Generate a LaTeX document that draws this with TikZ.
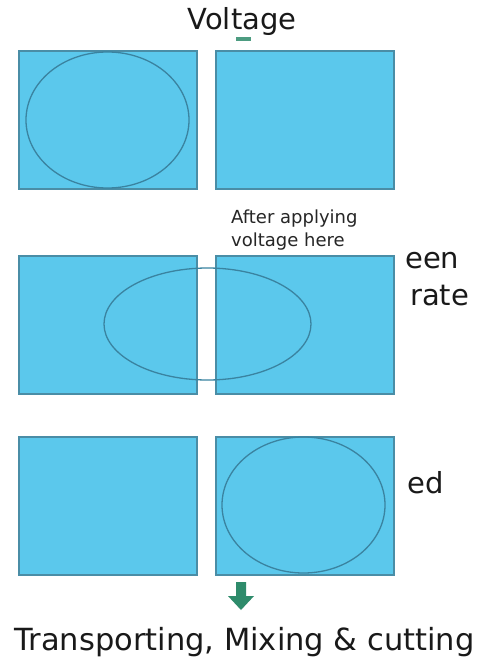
\documentclass[tikz,border=0pt]{standalone}
\usepackage{fontspec}
\setmainfont{DejaVu Sans}
\usetikzlibrary{shapes.geometric}
\definecolor{boxfill}{HTML}{5BC8EC}
\definecolor{boxline}{HTML}{4A8DA6}
\definecolor{ellline}{HTML}{3A83A0}
\definecolor{arrgreen}{HTML}{2E8B6B}
\begin{document}
\begin{tikzpicture}[x=1pt,y=-1pt,
  cell/.style={draw=boxline, fill=boxfill, line width=1.3pt, minimum width=178pt, minimum height=138pt, inner sep=0pt, outer sep=0pt, anchor=north west},
  drop/.style={ellipse, draw=ellline, line width=1.3pt, inner sep=0pt, outer sep=0pt},
  big/.style={font=\fontsize{29}{34}\selectfont, text=black!90, inner sep=0pt},
  small/.style={font=\fontsize{18}{22}\selectfont, text=black!85, inner sep=0pt, anchor=base west}]
\useasboundingbox[fill=white] (0,0) rectangle (480,669);
% title
\node[big, anchor=base] (title) at (242,30) {Voltage};
\fill[arrgreen!85] (236,37) rectangle (251,41);
% row 1
\node[cell] (r1l) at (19,51) {};
\node[cell] (r1r) at (216,51) {};
\node[drop, minimum width=163pt, minimum height=136pt] (e1) at (107.5,120) {};
% row 2
\node[small] (note1) at (231,223) {After applying};
\node[small] (note2) at (231,246) {voltage here};
\node[cell] (r2l) at (19,256) {};
\node[cell] (r2r) at (216,256) {};
\node[drop, minimum width=207pt, minimum height=112pt] (e2) at (207.5,324) {};
\node[big, anchor=base west] (t1) at (405,268) {een};
\node[big, anchor=base west] (t2) at (410,305) {rate};
% row 3
\node[cell] (r3l) at (19,437) {};
\node[cell] (r3r) at (216,437) {};
\node[drop, minimum width=163pt, minimum height=136pt] (e3) at (303.5,505) {};
\node[big, anchor=base west] (t3) at (407,493) {ed};
% arrow
\fill[arrgreen] (236,582) -- (246,582) -- (246,596) -- (254,596) -- (241,610) -- (228,596) -- (236,596) -- cycle;
% bottom text
\node[big, font=\fontsize{30.5}{36}\selectfont, anchor=base] (bottom) at (244.5,650) {Transporting, Mixing \& cutting};
\end{tikzpicture}
\end{document}
